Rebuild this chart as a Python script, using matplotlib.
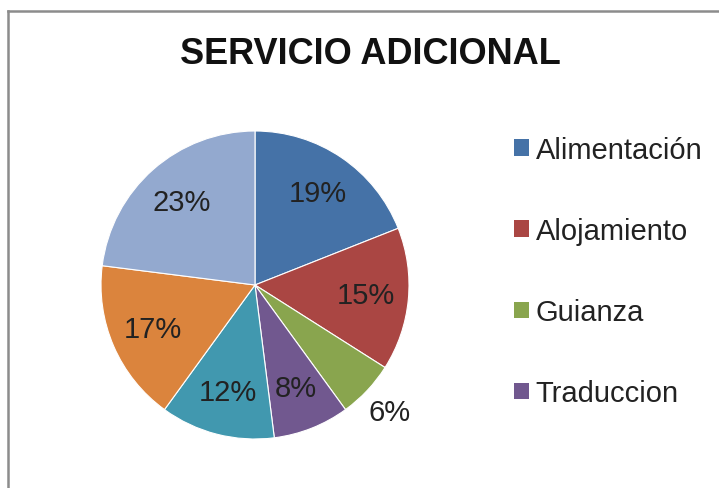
import matplotlib
matplotlib.use("Agg")
import matplotlib.pyplot as plt
from matplotlib import font_manager
from matplotlib.patches import Patch
import numpy as np

categories = ["Alimentación", "Alojamiento", "Guianza", "Traduccion", "", "", ""]
values = [19, 15, 6, 8, 12, 17, 23]
colors = ["#4572A7", "#AA4643", "#89A54E", "#71588F", "#4198AF", "#DB843D", "#93A9CF"]
legend_count = 4
title = "SERVICIO ADICIONAL"

names = {f.name for f in font_manager.fontManager.ttflist}
fam = "Liberation Sans Narrow" if "Liberation Sans Narrow" in names else "Liberation Sans"
plt.rcParams["font.family"] = [fam, "DejaVu Sans"]

W, H = 719, 489
fig = plt.figure(figsize=(W / 100, H / 100), dpi=100)

# pie axes: center (255,286), radius 154 px
cx, cy, r = 255, 286, 154
ax = fig.add_axes([(cx - r) / W, (H - cy - r) / H, 2 * r / W, 2 * r / H])
wedges, texts, autotexts = ax.pie(values, colors=colors, startangle=90, counterclock=False,
                                  autopct="%1.0f%%", pctdistance=0.72,
                                  wedgeprops=dict(edgecolor="white", linewidth=0.8),
                                  textprops=dict(fontsize=21, color="#222222"))
ax.set_xlim(-1, 1)
ax.set_ylim(-1, 1)
ax.set_aspect("equal")

# move small slice label outside
total = sum(values)
cum = np.cumsum([0] + values)
for i, t in enumerate(autotexts):
    if values[i] / total < 0.07:
        mid = (cum[i] + values[i] / 2) / total * 360
        ang = np.deg2rad(90 - mid)
        t.set_position((1.2 * np.cos(ang), 1.2 * np.sin(ang)))

fig.text(370 / W, 1 - 55 / H, title, ha="center", va="center", fontsize=26, fontweight="bold",
         color="#111111")

handles = [Patch(facecolor=colors[i], edgecolor="none") for i in range(legend_count)]
fig.legend(handles, categories[:legend_count], loc="upper left", bbox_to_anchor=(514 / W, 1 - 137 / H),
           frameon=False, fontsize=21, handlelength=0.5, handleheight=0.5, handletextpad=0.25,
           labelspacing=1.82, borderpad=0, borderaxespad=0, labelcolor="#222222")

# chart border (gray)
fig.add_artist(plt.Line2D([8 / W, 8 / W], [0, 1 - 12 / H], color="#8c8c8c", linewidth=1.8,
                          transform=fig.transFigure))
fig.add_artist(plt.Line2D([8 / W, 1], [1 - 12 / H, 1 - 12 / H], color="#8c8c8c", linewidth=1.8,
                          transform=fig.transFigure))

fig.savefig("out.png", dpi=100)
